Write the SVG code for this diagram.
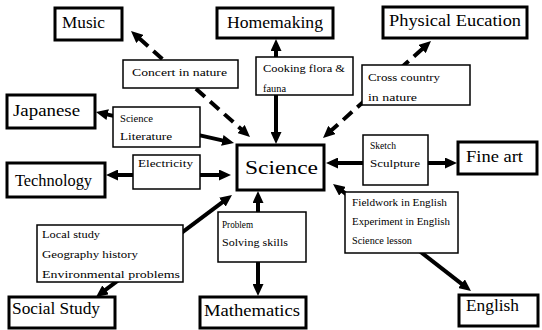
<svg xmlns="http://www.w3.org/2000/svg" width="542" height="330" viewBox="0 0 542 330">
<style>
.node rect{fill:#fff;stroke:#000;stroke-width:3}
.lab rect{fill:#fff;stroke:#000;stroke-width:1.5}
.node text{font-size:16px;fill:#000}
.lab text{font-size:10.5px;fill:#000}
.c line{stroke:#000;stroke-width:4;fill:none}
.c .d{stroke-dasharray:12 7}
</style>
<defs>
<marker id="ah" viewBox="0 0 12 11" markerWidth="12" markerHeight="11" refX="1" refY="5.5" markerUnits="userSpaceOnUse" orient="auto-start-reverse">
<path d="M0,0 L12,5.5 L0,11 z" fill="#000"/>
</marker>
</defs>
<rect width="542" height="330" fill="#fff"/>
<g id="connectors" class="c">
<line class="d" x1="139.2" y1="38.3" x2="241.8" y2="129.7" marker-start="url(#ah)" marker-end="url(#ah)"/>
<line x1="276" y1="50" x2="276" y2="133" marker-start="url(#ah)" marker-end="url(#ah)"/>
<line class="d" x1="422.8" y1="48.4" x2="331.2" y2="130.6" marker-start="url(#ah)" marker-end="url(#ah)"/>
<line x1="106.7" y1="114.4" x2="223.3" y2="140.6" marker-start="url(#ah)" marker-end="url(#ah)"/>
<line x1="117" y1="175" x2="220" y2="175" marker-start="url(#ah)" marker-end="url(#ah)"/>
<line x1="104.8" y1="290.4" x2="223.2" y2="201.6" marker-start="url(#ah)" marker-end="url(#ah)"/>
<line x1="258" y1="202" x2="258" y2="285" marker-start="url(#ah)" marker-end="url(#ah)"/>
<line x1="341.7" y1="190.7" x2="462.3" y2="284.3" marker-start="url(#ah)" marker-end="url(#ah)"/>
<line x1="337" y1="163" x2="446" y2="163" marker-start="url(#ah)" marker-end="url(#ah)"/>
</g>
<g font-family="Liberation Serif, serif">
<g id="label-concert" class="lab"><rect x="123" y="60" width="115" height="28"/><text x="132" y="76" textLength="95" lengthAdjust="spacingAndGlyphs">Concert in nature</text></g>
<g id="label-cooking" class="lab"><rect x="256" y="57" width="97" height="38"/><text x="263" y="72" textLength="82" lengthAdjust="spacingAndGlyphs">Cooking flora &amp;</text><text x="263" y="92" textLength="23" lengthAdjust="spacingAndGlyphs">fauna</text></g>
<g id="label-cross" class="lab"><rect x="362" y="65" width="108" height="40"/><text x="368" y="81" textLength="72" lengthAdjust="spacingAndGlyphs">Cross country</text><text x="368" y="101" textLength="49" lengthAdjust="spacingAndGlyphs">in nature</text></g>
<g id="label-scilit" class="lab"><rect x="113" y="107" width="87" height="40"/><text x="120" y="122" textLength="33" lengthAdjust="spacingAndGlyphs">Science</text><text x="120" y="140" textLength="52" lengthAdjust="spacingAndGlyphs">Literature</text></g>
<g id="label-electricity" class="lab"><rect x="133" y="155" width="67" height="34"/><text x="138" y="167" textLength="55" lengthAdjust="spacingAndGlyphs">Electricity</text></g>
<g id="label-sketch" class="lab"><rect x="363" y="135" width="65" height="50"/><text x="370" y="149" textLength="26" lengthAdjust="spacingAndGlyphs">Sketch</text><text x="370" y="167" textLength="50" lengthAdjust="spacingAndGlyphs">Sculpture</text></g>
<g id="label-english" class="lab"><rect x="345" y="192" width="113" height="61"/><text x="352" y="206" textLength="95" lengthAdjust="spacingAndGlyphs">Fieldwork in English</text><text x="352" y="225" textLength="98" lengthAdjust="spacingAndGlyphs">Experiment in English</text><text x="352" y="244" textLength="60" lengthAdjust="spacingAndGlyphs">Science lesson</text></g>
<g id="label-local" class="lab"><rect x="37" y="225" width="146" height="57"/><text x="42" y="238" textLength="58" lengthAdjust="spacingAndGlyphs">Local study</text><text x="42" y="258" textLength="96" lengthAdjust="spacingAndGlyphs">Geography history</text><text x="42" y="278" textLength="138" lengthAdjust="spacingAndGlyphs">Environmental problems</text></g>
<g id="label-problem" class="lab"><rect x="218" y="212" width="88" height="50"/><text x="222" y="228" textLength="31" lengthAdjust="spacingAndGlyphs">Problem</text><text x="222" y="246" textLength="66" lengthAdjust="spacingAndGlyphs">Solving skills</text></g>
</g>
<g font-family="Liberation Serif, serif">
<g id="node-music" class="node"><rect x="55" y="8" width="67" height="32"/><text x="62" y="28" textLength="43" lengthAdjust="spacingAndGlyphs">Music</text></g>
<g id="node-homemaking" class="node"><rect x="217" y="8" width="116" height="30"/><text x="227" y="28" textLength="96" lengthAdjust="spacingAndGlyphs">Homemaking</text></g>
<g id="node-pe" class="node"><rect x="383" y="7" width="144" height="31"/><text x="389" y="26" textLength="132" lengthAdjust="spacingAndGlyphs">Physical Eucation</text></g>
<g id="node-japanese" class="node"><rect x="7" y="95" width="88" height="33"/><text x="13" y="116" textLength="67" lengthAdjust="spacingAndGlyphs">Japanese</text></g>
<g id="node-technology" class="node"><rect x="7" y="163" width="98" height="34"/><text x="15" y="186" textLength="77" lengthAdjust="spacingAndGlyphs">Technology</text></g>
<g id="node-science" class="node"><rect x="237" y="145" width="87" height="45"/><text x="245" y="174" style="font-size:18px" textLength="73" lengthAdjust="spacingAndGlyphs">Science</text></g>
<g id="node-fineart" class="node"><rect x="458" y="142" width="79" height="32"/><text x="466" y="162" textLength="57" lengthAdjust="spacingAndGlyphs">Fine art</text></g>
<g id="node-social" class="node"><rect x="9" y="297" width="106" height="31"/><text x="12" y="314" textLength="88" lengthAdjust="spacingAndGlyphs">Social Study</text></g>
<g id="node-math" class="node"><rect x="200" y="297" width="106" height="31"/><text x="204" y="316" textLength="96" lengthAdjust="spacingAndGlyphs">Mathematics</text></g>
<g id="node-english" class="node"><rect x="459" y="295" width="79" height="31"/><text x="466" y="311" textLength="53" lengthAdjust="spacingAndGlyphs">English</text></g>
</g>
</svg>
